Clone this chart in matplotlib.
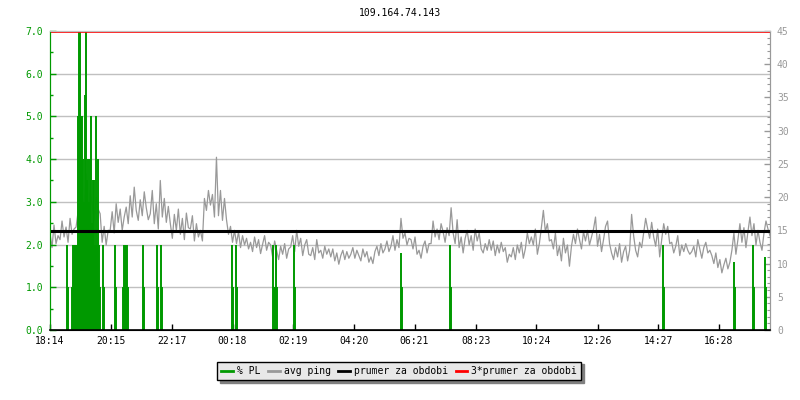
import numpy as np
import matplotlib.pyplot as plt
from matplotlib.lines import Line2D

plt.rcParams['font.family'] = ['DejaVu Sans Mono']
plt.rcParams['font.size'] = 7

title = "109.164.74.143"

# osa x: minuty od 18:14
tick_min = [0, 121, 243, 364, 485, 606, 727, 849, 970, 1092, 1213, 1334]
tick_labels = ["18:14", "20:15", "22:17", "00:18", "02:19", "04:20",
               "06:21", "08:23", "10:24", "12:26", "14:27", "16:28"]
x_end = 1436

# avg ping [ms], jeden vzorek po 4 minutach
ping_eve = [14.5, 12.4, 15.8, 13.0, 14.2,
            13.6, 16.4, 14.0, 15.5, 13.2, 16.8, 14.4, 15.2,
            15.5, 17.8, 16.2, 20.5, 18.0, 23.5, 17.2, 21.0, 19.0, 16.5, 20.0, 18.2,
            17.5, 13.2, 15.6, 12.8, 15.0,
            15.0, 17.8, 14.6, 19.0, 16.2, 18.2, 15.0, 17.0,
            18.5, 16.0, 20.2, 17.0, 21.5, 18.0, 16.5, 19.6, 17.2, 20.8, 18.4, 16.6,
            17.5, 21.0, 16.0, 19.0, 15.2, 22.5, 17.0, 19.8, 16.2, 18.6]
ping_night = [16.0, 13.8, 17.4, 15.0, 18.2, 14.4, 16.8, 13.6, 17.6, 15.4,
              15.2, 17.2, 13.4, 16.0, 14.0,
              15.0, 13.4, 19.8, 18.0, 21.0, 18.8, 20.4, 17.0,
              26.0, 17.2, 21.0, 16.5, 19.8,
              16.6, 14.4, 15.6, 13.2, 15.0,
              13.0, 14.8, 12.4, 14.2, 12.8, 13.8, 12.2,
              13.2, 11.8, 14.0, 12.4, 13.6, 11.5, 12.9, 14.2, 12.0, 13.2,
              12.8, 11.0, 13.4, 12.0, 10.6, 12.6, 11.4, 13.0, 10.8, 12.2,
              12.5, 14.2, 11.8, 15.0, 12.6, 13.8, 11.2, 12.8, 13.6, 11.4,
              11.2, 12.4, 10.6, 13.6, 11.6, 12.0, 10.8, 12.6, 11.4, 12.2,
              11.0, 12.2, 10.4, 11.6, 9.9, 11.2, 12.0, 10.6, 11.8, 10.8,
              11.4, 12.4, 10.8, 12.0, 11.2, 10.4, 12.2, 11.0, 11.8, 10.2]
ping_morning = [11.0, 10.0, 11.8, 12.6, 11.2, 13.0, 11.6, 12.2, 13.4, 11.8,
                12.6, 14.2, 12.0, 13.6, 12.4, 16.8, 13.8, 14.6, 12.8, 13.8,
                13.6, 12.2, 14.0, 11.4, 12.0, 10.8, 12.6, 13.4, 11.6, 13.0,
                13.0, 16.4, 14.0, 15.2, 13.6, 16.0, 14.8, 13.2, 15.4, 14.2,
                18.4, 14.6, 13.0, 16.6, 12.4, 14.0, 11.6, 13.8, 15.0, 12.8,
                14.2, 12.0, 15.2, 13.4, 14.6, 12.2, 11.6, 13.0, 12.0, 13.6,
                12.0, 13.4, 11.2, 12.8, 11.6, 13.2, 11.8, 12.4, 10.2, 11.4,
                11.0, 12.4, 10.6, 12.8, 11.6, 13.2, 10.8, 12.2, 14.6, 13.0]
ping_day = [14.0, 12.8, 15.2, 11.4, 13.0, 15.4, 18.0, 14.8, 16.0, 13.4,
            13.6, 12.2, 14.6, 11.2, 12.6, 10.4, 13.8, 11.6, 12.8, 9.6,
            12.6, 14.4, 13.0, 15.2, 13.6, 12.2, 14.8, 13.4, 15.0, 12.8,
            14.0, 15.2, 17.0, 12.6, 14.4, 11.8, 13.6, 15.6, 16.4, 13.0,
            11.6, 10.6, 12.4, 11.0, 13.0, 10.2, 11.8, 12.6, 10.4, 12.0,
            17.4, 14.2, 12.0, 11.0, 13.2, 12.4, 14.6, 16.8, 15.2, 13.8,
            16.2, 14.0, 12.6, 15.2, 11.0, 13.6, 16.0, 14.4, 15.6, 13.0,
            13.2, 11.6, 12.6, 14.2, 11.2, 12.8, 11.8, 13.0, 12.0, 11.4,
            11.8, 12.6, 11.0, 13.6, 12.2, 10.8, 12.4, 13.2, 11.6, 12.0,
            11.2, 10.0, 11.6, 9.4, 10.6, 8.6, 9.8, 10.8, 9.2, 10.2,
            12.0, 14.6, 11.4, 13.6, 16.0, 13.2, 15.4, 12.4, 14.8, 17.0,
            14.2, 16.0, 12.8, 15.0, 13.2, 12.0, 14.6, 16.4, 15.2, 14.2]
ping = ping_eve + ping_night + ping_morning + ping_day
ping_t = np.arange(len(ping)) * 4

# packet loss [%]
pl_t = [34, 36,
        44, 46, 48, 50, 52, 54, 56, 58, 60, 62, 64, 66, 68, 70, 72, 74, 76,
        78, 80, 82, 84, 86, 88, 90, 92, 94, 96, 98, 100,
        106, 108, 130, 132, 146, 148, 150, 152, 154, 156,
        186, 188, 214, 216, 222, 224,
        362, 364, 370, 372, 444, 446, 448, 450, 452, 486, 488,
        700, 702, 798, 800,
        1222, 1224, 1364, 1366, 1402, 1404, 1426, 1428]
pl_v = [2.0, 1.0,
        1.0, 2.0, 2.0, 2.0, 2.0, 2.0, 5.0, 7.0, 7.0, 5.0, 5.0, 4.0, 3.0, 5.5, 7.0, 3.5, 4.0,
        3.0, 4.0, 5.0, 2.5, 3.5, 3.5, 2.0, 5.0, 2.0, 4.0, 2.0, 1.0,
        2.0, 1.0, 2.0, 1.0, 1.0, 2.0, 2.0, 2.0, 2.0, 1.0,
        2.0, 1.0, 2.0, 1.0, 2.0, 1.0,
        2.0, 1.0, 2.0, 1.0, 2.0, 1.0, 1.0, 2.0, 1.0, 2.0, 1.0,
        1.8, 1.0, 2.0, 1.0,
        2.0, 1.0, 1.6, 1.0, 2.0, 1.0, 1.7, 1.0]

avg_ping = 14.95

green = '#009900'
gray = '#999999'
grid = '#c0c0c0'

fig = plt.figure(figsize=(8, 4), dpi=100)
ax = fig.add_axes([50 / 800, 70 / 400, 720 / 800, 299 / 400])
ax2 = ax.twinx()
ax.set_zorder(ax2.get_zorder() + 1)
ax.patch.set_visible(False)

ax2.plot(ping_t, ping, color=gray, lw=0.9)
ax.vlines(pl_t, 0, pl_v, color=green, lw=1.4)
ax.plot([0, x_end], [avg_ping, avg_ping], color='black', lw=2.2, transform=ax2.transData)
ax.plot([0, x_end], [3 * avg_ping, 3 * avg_ping], color='red', lw=1.2, transform=ax2.transData)

ax.set_xlim(0, x_end)
ax.set_ylim(0, 7)
ax2.set_ylim(0, 45)

for y in range(1, 7):
    ax2.axhline(y * 45 / 7, color=grid, lw=1, zorder=0)

ax.set_xticks(tick_min)
ax.set_xticklabels(tick_labels)
ax.set_yticks(np.arange(0, 7.5, 1.0))
ax.set_yticklabels(["%.1f" % v for v in np.arange(0, 7.5, 1.0)])
ax.set_yticks(np.arange(0.5, 7, 1.0), minor=True)
ax2.set_yticks(range(0, 46, 5))
ax2.set_yticks(range(0, 46, 1), minor=True)

ax.tick_params(axis='x', direction='in', length=4, width=1, colors='black', pad=4)
ax.tick_params(axis='y', which='major', direction='in', length=4, width=1,
               colors=green, labelcolor=green, pad=5)
ax.tick_params(axis='y', which='minor', direction='in', length=2.5, width=1, colors=green)
ax2.tick_params(axis='y', which='major', direction='in', length=4, width=1,
                colors=gray, labelcolor=gray, pad=5)
ax2.tick_params(axis='y', which='minor', direction='in', length=2, width=0.8, colors=gray)
ax2.tick_params(axis='x', bottom=False, labelbottom=False)

for a in (ax, ax2):
    a.spines['left'].set_color(green)
    a.spines['right'].set_color(gray)
    a.spines['top'].set_color(grid)
    a.spines['bottom'].set_color('black')
ax.spines['bottom'].set_linewidth(1.2)

fig.text(0.5, 1 - 13 / 400, title, ha='center', va='center', fontsize=7)

handles = [Line2D([], [], color=green, lw=2),
           Line2D([], [], color=gray, lw=2),
           Line2D([], [], color='black', lw=2),
           Line2D([], [], color='red', lw=2)]
labels = ["% PL", "avg ping", "prumer za obdobi", "3*prumer za obdobi"]
leg = fig.legend(handles, labels, loc='center', bbox_to_anchor=(0.4988, 1 - 371 / 400),
                 ncol=4, frameon=True, fancybox=False, edgecolor='black',
                 facecolor='#e8e8e8', framealpha=1, handlelength=1.2,
                 handletextpad=0.4, columnspacing=0.8, borderpad=0.45,
                 shadow={'color': '#808080', 'alpha': 1})
leg.get_frame().set_linewidth(1)

fig.savefig("out.png", dpi=100)
